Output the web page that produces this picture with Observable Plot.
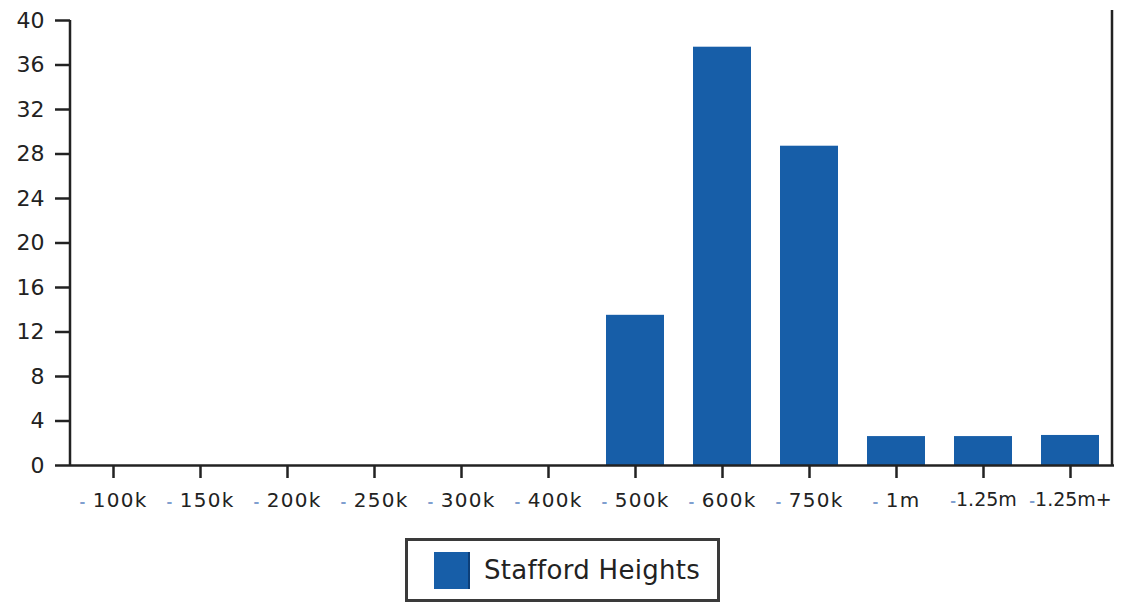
<!DOCTYPE html>
<html>
<head>
<meta charset="utf-8">
<script src="https://cdn.jsdelivr.net/npm/d3@7"></script>
<script src="https://cdn.jsdelivr.net/npm/@observablehq/plot@0.6"></script>
<style>
  html, body { margin: 0; padding: 0; background: #fff; }
  #chart { position: relative; width: 1127px; height: 602px; font-family: "DejaVu Sans", sans-serif; }
  #legend {
    position: absolute; left: 405px; top: 538px; width: 309px; height: 58px;
    border: 3px solid #3a3a3a; background: #fff; display: flex; align-items: center;
  }
  #legend .sw { width: 36px; height: 37px; background: #175ea8; margin-left: 26px; border-right: 2px solid #0d3f78; box-sizing: border-box; }
  #legend .lb { margin-left: 14px; font-size: 26px; color: #222; letter-spacing: 0.3px; }
</style>
</head>
<body>
<div id="chart"></div>
<script>
const categories = ["100k", "150k", "200k", "250k", "300k", "400k", "500k", "600k", "750k", "1m", "1.25m", "1.25m+"];
const values = [0, 0, 0, 0, 0, 0, 13.5, 37.6, 28.7, 2.6, 2.6, 2.7];
const yTicks = [0, 4, 8, 12, 16, 20, 24, 28, 32, 36, 40];
const seriesName = "Stafford Heights";

const data = categories.map((c, i) => ({cat: c, value: values[i]}));

const plot = Plot.plot({
  width: 1127,
  height: 530,
  marginLeft: 70,
  marginRight: 13,
  marginTop: 20,
  marginBottom: 65,
  style: {fontFamily: "DejaVu Sans, sans-serif", color: "#222", background: "#fff"},
  x: {type: "band", domain: categories, paddingInner: 0.33, paddingOuter: 0.165, label: null},
  y: {domain: [0, 40], label: null},
  marks: [
    Plot.barY(data, {x: "cat", y: "value", fill: "#175ea8"}),
    Plot.ruleY([0], {stroke: "#222", strokeWidth: 2.5}),
    Plot.axisY({ticks: yTicks, tickSize: 15, tickPadding: 11, fontSize: 22, strokeWidth: 2.5, stroke: "#222", label: null}),
    Plot.axisX({tickSize: 13, tickPadding: 14, fontSize: 20, strokeWidth: 2.5, stroke: "#222", label: null,
      tickFormat: d => d})
  ]
});

document.getElementById("chart").appendChild(plot);

// axis domain lines (left and right) from the plot's scales
const xs = plot.scale("x"), ys = plot.scale("y");
const svg = d3.select(plot);
const x0 = xs.range[0], x1 = xs.range[1];
const yTop = ys.apply(40), yBot = ys.apply(0);
svg.append("line").attr("x1", x0).attr("x2", x0).attr("y1", yTop).attr("y2", yBot)
  .attr("stroke", "#222").attr("stroke-width", 2.5);
svg.append("line").attr("x1", x1 - 2).attr("x2", x1 - 2).attr("y1", yTop - 10).attr("y2", yBot)
  .attr("stroke", "#222").attr("stroke-width", 2.5);

// y tick label size
svg.selectAll("[aria-label='y-axis tick label'] text").attr("font-size", 22).style("font-size", "22px");

// small blue dash markers before each x tick label
svg.selectAll("[aria-label='x-axis tick label'] text").each(function() {
  const t = d3.select(this);
  const label = t.text();
  const tight = label.startsWith("1.25");
  t.text(null).attr("font-size", 20).style("font-size", tight ? "19px" : "20px")
    .style("letter-spacing", tight ? "0px" : "1.3px");
  t.append("tspan").text(tight ? "-" : "- ").attr("fill", "#7f9fcf").style("font-size", "14px").style("font-weight", "bold");
  t.append("tspan").text(label);
});

// legend
const legend = document.createElement("div");
legend.id = "legend";
legend.innerHTML = `<div class="sw"></div><div class="lb"></div>`;
legend.querySelector(".lb").textContent = seriesName;
document.getElementById("chart").appendChild(legend);
</script>
</body>
</html>
